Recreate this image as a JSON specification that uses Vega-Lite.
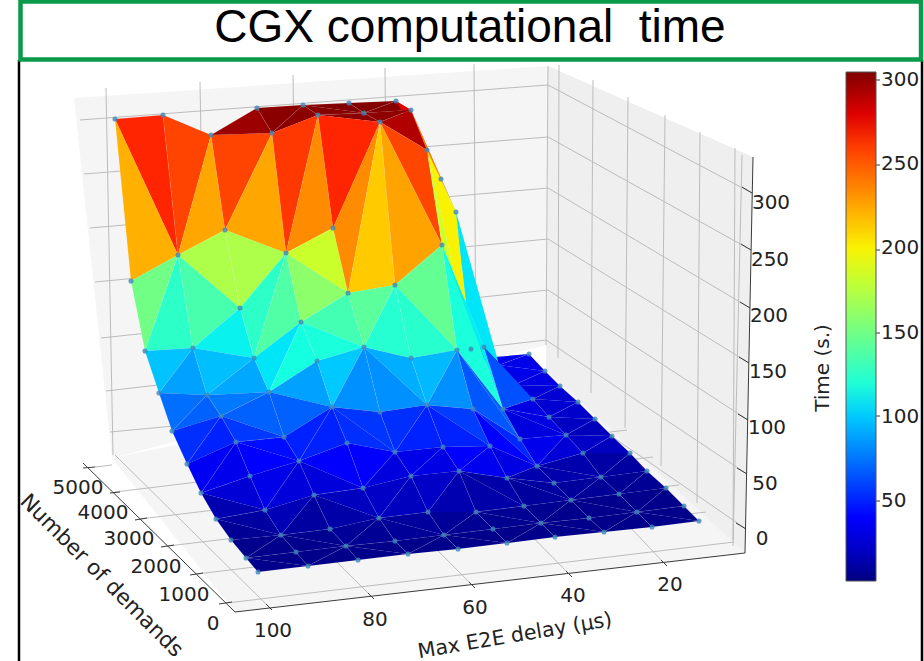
{"$schema":"https://vega.github.io/schema/vega-lite/v6.json","width":924,"height":661,"padding":0,"autosize":{"type":"none"},"background":"white","config":{"view":{"stroke":null}},
"data":{"name":"tris"},
"transform":[{"window":[{"op":"row_number","as":"t"}]},{"flatten":["p"],"as":["id"]},{"lookup":"id","from":{"data":{"name":"points"},"key":"id","fields":["sx","sy"]}}],
"datasets":{
"points":[
{"id":0,"delay":100,"demands":500,"time":5,"sx":258,"sy":572},{"id":1,"delay":90,"demands":500,"time":5,"sx":308,"sy":566},{"id":2,"delay":80,"demands":500,"time":5,"sx":358,"sy":560},{"id":3,"delay":70,"demands":500,"time":5,"sx":408,"sy":554},{"id":4,"delay":60,"demands":500,"time":5,"sx":458,"sy":549},{"id":5,"delay":50,"demands":500,"time":5,"sx":507,"sy":543},{"id":6,"delay":40,"demands":500,"time":5,"sx":555,"sy":537},{"id":7,"delay":30,"demands":500,"time":5,"sx":604,"sy":532},{"id":8,"delay":20,"demands":500,"time":5,"sx":652,"sy":527},{"id":9,"delay":10,"demands":500,"time":5,"sx":699,"sy":521},
{"id":10,"delay":100,"demands":950,"time":6,"sx":246,"sy":558},{"id":11,"delay":90,"demands":950,"time":6,"sx":296,"sy":552},{"id":12,"delay":80,"demands":950,"time":6,"sx":346,"sy":546},{"id":13,"delay":70,"demands":950,"time":6,"sx":395,"sy":541},{"id":14,"delay":60,"demands":950,"time":6,"sx":444,"sy":535},{"id":15,"delay":50,"demands":950,"time":6,"sx":493,"sy":529},{"id":16,"delay":40,"demands":950,"time":6,"sx":541,"sy":523},{"id":17,"delay":30,"demands":950,"time":6,"sx":589,"sy":518},{"id":18,"delay":20,"demands":950,"time":6,"sx":637,"sy":512},{"id":19,"delay":10,"demands":950,"time":6,"sx":684,"sy":506},
{"id":20,"delay":100,"demands":1400,"time":9,"sx":231,"sy":540},{"id":21,"delay":90,"demands":1400,"time":8,"sx":281,"sy":535},{"id":22,"delay":80,"demands":1400,"time":8,"sx":330,"sy":529},{"id":23,"delay":70,"demands":1400,"time":13,"sx":379,"sy":518},{"id":24,"delay":60,"demands":1400,"time":13,"sx":428,"sy":512},{"id":25,"delay":50,"demands":1400,"time":7,"sx":476,"sy":512},{"id":26,"delay":40,"demands":1400,"time":6,"sx":524,"sy":506},{"id":27,"delay":30,"demands":1400,"time":6,"sx":571,"sy":500},{"id":28,"delay":20,"demands":1400,"time":6,"sx":619,"sy":494},{"id":29,"delay":10,"demands":1400,"time":5,"sx":666,"sy":488},
{"id":30,"delay":100,"demands":1850,"time":14,"sx":216,"sy":519},{"id":31,"delay":90,"demands":1850,"time":17,"sx":265,"sy":510},{"id":32,"delay":80,"demands":1850,"time":24,"sx":314,"sy":495},{"id":33,"delay":70,"demands":1850,"time":25,"sx":363,"sy":488},{"id":34,"delay":60,"demands":1850,"time":29,"sx":411,"sy":476},{"id":35,"delay":50,"demands":1850,"time":28,"sx":459,"sy":471},{"id":36,"delay":40,"demands":1850,"time":17,"sx":507,"sy":478},{"id":37,"delay":30,"demands":1850,"time":6,"sx":554,"sy":483},{"id":38,"delay":20,"demands":1850,"time":6,"sx":601,"sy":477},{"id":39,"delay":10,"demands":1850,"time":5,"sx":647,"sy":471},
{"id":40,"delay":100,"demands":2300,"time":25,"sx":201,"sy":493},{"id":41,"delay":90,"demands":2300,"time":34,"sx":250,"sy":476},{"id":42,"delay":80,"demands":2300,"time":41,"sx":299,"sy":461},{"id":43,"delay":70,"demands":2300,"time":52,"sx":347,"sy":443},{"id":44,"delay":60,"demands":2300,"time":38,"sx":395,"sy":452},{"id":45,"delay":50,"demands":2300,"time":36,"sx":443,"sy":447},{"id":46,"delay":40,"demands":2300,"time":30,"sx":490,"sy":446},{"id":47,"delay":30,"demands":2300,"time":6,"sx":537,"sy":466},{"id":48,"delay":20,"demands":2300,"time":12,"sx":583,"sy":453},{"id":49,"delay":10,"demands":2300,"time":6,"sx":630,"sy":453},
{"id":50,"delay":100,"demands":2750,"time":40,"sx":187,"sy":464},{"id":51,"delay":90,"demands":2750,"time":54,"sx":236,"sy":442},{"id":52,"delay":80,"demands":2750,"time":52,"sx":284,"sy":437},{"id":53,"delay":70,"demands":2750,"time":73,"sx":332,"sy":407},{"id":54,"delay":60,"demands":2750,"time":62,"sx":380,"sy":412},{"id":55,"delay":50,"demands":2750,"time":62,"sx":427,"sy":405},{"id":56,"delay":40,"demands":2750,"time":51,"sx":473,"sy":409},{"id":57,"delay":30,"demands":2750,"time":16,"sx":520,"sy":439},{"id":58,"delay":20,"demands":2750,"time":12,"sx":566,"sy":435},{"id":59,"delay":10,"demands":2750,"time":5,"sx":612,"sy":436},
{"id":60,"delay":100,"demands":3200,"time":58,"sx":172,"sy":431},{"id":61,"delay":90,"demands":3200,"time":64,"sx":221,"sy":416},{"id":62,"delay":80,"demands":3200,"time":80,"sx":269,"sy":392},{"id":63,"delay":70,"demands":3200,"time":102,"sx":317,"sy":361},{"id":64,"delay":60,"demands":3200,"time":108,"sx":364,"sy":347},{"id":65,"delay":50,"demands":3200,"time":90,"sx":411,"sy":358},{"id":66,"delay":40,"demands":3200,"time":90,"sx":457,"sy":350},{"id":67,"delay":30,"demands":3200,"time":28,"sx":503,"sy":409},{"id":68,"delay":20,"demands":3200,"time":13,"sx":549,"sy":417},{"id":69,"delay":10,"demands":3200,"time":5,"sx":595,"sy":419},
{"id":70,"delay":100,"demands":3650,"time":80,"sx":159,"sy":393},{"id":71,"delay":90,"demands":3650,"time":71,"sx":207,"sy":395},{"id":72,"delay":80,"demands":3650,"time":98,"sx":254,"sy":358},{"id":73,"delay":70,"demands":3650,"time":126,"sx":301,"sy":322},{"id":74,"delay":60,"demands":3650,"time":175,"sx":348,"sy":293},{"id":75,"delay":50,"demands":3650,"time":150,"sx":395,"sy":285},{"id":76,"delay":40,"demands":3650,"time":176,"sx":442,"sy":245},{"id":77,"delay":30,"demands":3650,"time":72,"sx":484,"sy":347},{"id":78,"delay":20,"demands":3650,"time":15,"sx":533,"sy":399},{"id":79,"delay":10,"demands":3650,"time":6,"sx":578,"sy":402},
{"id":80,"delay":100,"demands":4100,"time":109,"sx":145,"sy":351},{"id":81,"delay":90,"demands":4100,"time":104,"sx":193,"sy":348},{"id":82,"delay":80,"demands":4100,"time":135,"sx":240,"sy":308},{"id":83,"delay":70,"demands":4100,"time":180,"sx":286,"sy":253},{"id":84,"delay":60,"demands":4100,"time":215,"sx":333,"sy":228},{"id":85,"delay":50,"demands":4100,"time":303,"sx":380,"sy":122},{"id":86,"delay":40,"demands":4100,"time":255,"sx":427,"sy":150},{"id":87,"delay":30,"demands":4100,"time":57,"sx":471,"sy":349},{"id":88,"delay":20,"demands":4100,"time":14,"sx":514,"sy":385},{"id":89,"delay":10,"demands":4100,"time":6,"sx":560,"sy":386},
{"id":90,"delay":100,"demands":4550,"time":161,"sx":131,"sy":281},{"id":91,"delay":90,"demands":4550,"time":179,"sx":178,"sy":255},{"id":92,"delay":80,"demands":4550,"time":195,"sx":225,"sy":230},{"id":93,"delay":70,"demands":4550,"time":280,"sx":272,"sy":133},{"id":94,"delay":60,"demands":4550,"time":295,"sx":318,"sy":115},{"id":95,"delay":50,"demands":4550,"time":300,"sx":364,"sy":113},{"id":96,"delay":40,"demands":4550,"time":295,"sx":411,"sy":110},{"id":97,"delay":30,"demands":4550,"time":260,"sx":456,"sy":212},{"id":98,"delay":20,"demands":4550,"time":16,"sx":499,"sy":365},{"id":99,"delay":10,"demands":4550,"time":5,"sx":545,"sy":371},
{"id":100,"delay":100,"demands":5000,"time":295,"sx":115,"sy":119},{"id":101,"delay":90,"demands":5000,"time":295,"sx":163,"sy":115},{"id":102,"delay":80,"demands":5000,"time":280,"sx":211,"sy":135},{"id":103,"delay":70,"demands":5000,"time":302,"sx":257,"sy":108},{"id":104,"delay":60,"demands":5000,"time":304,"sx":303,"sy":105},{"id":105,"delay":50,"demands":5000,"time":304,"sx":349,"sy":103},{"id":106,"delay":40,"demands":5000,"time":304,"sx":396,"sy":101},{"id":107,"delay":30,"demands":5000,"time":180,"sx":441,"sy":179},{"id":108,"delay":20,"demands":5000,"time":12,"sx":483,"sy":358},{"id":109,"delay":10,"demands":5000,"time":5,"sx":529,"sy":354}],
"tris":[
{"p":[100,101,91],"time":268},{"p":[100,90,91],"time":222},{"p":[101,102,91],"time":258},{"p":[102,91,92],"time":225},{"p":[102,92,93],"time":258},{"p":[102,103,93],"time":297},{"p":[103,104,93],"time":302},{"p":[104,93,94],"time":302},{"p":[104,105,95],"time":304},{"p":[104,94,95],"time":303},{"p":[105,106,95],"time":304},{"p":[106,95,96],"time":303},{"p":[106,107,96],"time":280},{"p":[107,96,97],"time":240},{"p":[107,97,98],"time":140},{"p":[107,108,98],"time":100},{"p":[108,109,98],"time":32},{"p":[109,98,99],"time":30},
{"p":[90,91,80],"time":150},{"p":[91,80,81],"time":125},{"p":[91,92,82],"time":172},{"p":[91,81,82],"time":135},{"p":[92,93,83],"time":225},{"p":[92,83,82],"time":172},{"p":[93,94,83],"time":262},{"p":[94,83,84],"time":234},{"p":[94,95,85],"time":302},{"p":[94,84,85],"time":268},{"p":[95,96,85],"time":301},{"p":[96,85,86],"time":292},{"p":[96,86,97],"time":240},{"p":[86,97,87],"time":200},{"p":[97,87,98],"time":108},{"p":[87,88,98],"time":45},{"p":[88,98,99],"time":30},{"p":[88,89,99],"time":28},
{"p":[80,81,70],"time":98},{"p":[81,70,71],"time":88},{"p":[81,82,72],"time":112},{"p":[81,71,72],"time":97},{"p":[82,83,72],"time":125},{"p":[83,72,73],"time":138},{"p":[83,84,74],"time":183},{"p":[83,73,74],"time":160},{"p":[84,85,74],"time":234},{"p":[85,74,75],"time":213},{"p":[85,86,76],"time":257},{"p":[85,75,76],"time":226},{"p":[86,76,87],"time":185},{"p":[76,87,77],"time":116},{"p":[87,88,78],"time":59},{"p":[87,77,78],"time":62},{"p":[88,89,78],"time":26},{"p":[89,78,79],"time":24},
{"p":[70,71,60],"time":73},{"p":[71,60,61],"time":69},{"p":[71,72,62],"time":90},{"p":[71,61,62],"time":76},{"p":[72,62,73],"time":108},{"p":[62,73,63],"time":116},{"p":[73,74,64],"time":133},{"p":[73,63,64],"time":118},{"p":[74,75,64],"time":142},{"p":[75,64,65],"time":122},{"p":[75,76,66],"time":145},{"p":[75,65,66],"time":123},{"p":[76,66,67],"time":118},{"p":[76,77,67],"time":110},{"p":[77,78,67],"time":64},{"p":[78,67,68],"time":28},{"p":[78,79,68],"time":24},{"p":[79,68,69],"time":22},
{"p":[60,61,50],"time":54},{"p":[61,50,51],"time":50},{"p":[61,62,52],"time":69},{"p":[61,51,52],"time":57},{"p":[62,63,53],"time":88},{"p":[62,52,53],"time":69},{"p":[63,64,53],"time":100},{"p":[64,53,54],"time":83},{"p":[64,54,55],"time":83},{"p":[64,65,55],"time":92},{"p":[65,66,55],"time":95},{"p":[66,55,56],"time":83},{"p":[66,67,57],"time":69},{"p":[66,56,57],"time":66},{"p":[67,68,58],"time":28},{"p":[67,57,58],"time":27},{"p":[68,69,58],"time":20},{"p":[69,58,59],"time":18},
{"p":[50,51,40],"time":33},{"p":[51,40,41],"time":31},{"p":[51,52,42],"time":44},{"p":[51,41,42],"time":36},{"p":[52,53,42],"time":50},{"p":[53,42,43],"time":50},{"p":[53,54,44],"time":56},{"p":[53,43,44],"time":54},{"p":[54,55,44],"time":54},{"p":[55,44,45],"time":50},{"p":[55,56,46],"time":58},{"p":[55,45,46],"time":50},{"p":[56,57,47],"time":52},{"p":[56,46,47],"time":36},{"p":[57,47,58],"time":31},{"p":[47,58,48],"time":25},{"p":[58,59,48],"time":21},{"p":[59,48,49],"time":19},
{"p":[40,41,31],"time":25},{"p":[40,30,31],"time":15},{"p":[41,42,31],"time":30},{"p":[42,31,32],"time":26},{"p":[42,43,33],"time":35},{"p":[42,32,33],"time":26},{"p":[43,44,33],"time":35},{"p":[44,33,34],"time":27},{"p":[44,45,34],"time":30},{"p":[45,34,35],"time":29},{"p":[45,46,35],"time":35},{"p":[46,35,36],"time":32},{"p":[46,36,47],"time":28},{"p":[36,47,37],"time":15},{"p":[47,37,38],"time":14},{"p":[47,48,38],"time":14},{"p":[48,49,38],"time":12},{"p":[49,38,39],"time":11},
{"p":[30,20,21],"time":8},{"p":[30,31,21],"time":11},{"p":[31,32,21],"time":17},{"p":[32,21,22],"time":11},{"p":[32,33,23],"time":19},{"p":[32,22,23],"time":13},{"p":[33,34,23],"time":21},{"p":[34,23,24],"time":19},{"p":[34,35,24],"time":21},{"p":[35,24,25],"time":15},{"p":[35,25,26],"time":13},{"p":[35,36,26],"time":13},{"p":[36,37,27],"time":11},{"p":[36,26,27],"time":10},{"p":[37,38,27],"time":10},{"p":[38,27,28],"time":9},{"p":[38,28,39],"time":8},{"p":[39,28,29],"time":8},
{"p":[20,21,10],"time":6},{"p":[21,10,11],"time":6},{"p":[21,22,12],"time":7},{"p":[21,11,12],"time":6},{"p":[22,23,12],"time":9},{"p":[23,12,13],"time":8},{"p":[23,24,14],"time":10},{"p":[23,13,14],"time":9},{"p":[24,25,14],"time":9},{"p":[25,14,15],"time":8},{"p":[25,26,16],"time":8},{"p":[25,15,16],"time":7},{"p":[26,27,16],"time":7},{"p":[27,16,17],"time":6},{"p":[27,28,18],"time":6},{"p":[27,17,18],"time":6},{"p":[28,29,18],"time":6},{"p":[29,18,19],"time":5},
{"p":[10,11,1],"time":5},{"p":[10,0,1],"time":5},{"p":[11,12,1],"time":5},{"p":[12,1,2],"time":5},{"p":[12,13,3],"time":5},{"p":[12,2,3],"time":5},{"p":[13,14,3],"time":5},{"p":[14,3,4],"time":5},{"p":[14,15,5],"time":5},{"p":[14,4,5],"time":5},{"p":[15,16,5],"time":5},{"p":[16,5,6],"time":5},{"p":[16,17,7],"time":5},{"p":[16,6,7],"time":5},{"p":[17,18,7],"time":5},{"p":[18,7,8],"time":5},{"p":[18,19,9],"time":5},{"p":[18,8,9],"time":5}],
"backpanes":[{"g":1,"sx":[74,548,546,112],"sy":[98,66,345,458]},{"g":2,"sx":[112,546,745,235],"sy":[458,370,553,612]}],
"sidepane":[{"g":1,"sx":[548,753,745,546],"sy":[66,157,553,370]}],
"grid":[
{"g":1,"sx":[80,548],"sy":[120,85]},{"g":2,"sx":[84,548],"sy":[174,137]},{"g":3,"sx":[90,548],"sy":[228,188]},{"g":4,"sx":[95,548],"sy":[282,239]},{"g":5,"sx":[101,548],"sy":[338,290]},{"g":6,"sx":[106,546],"sy":[391,340]},{"g":7,"sx":[110,546],"sy":[432,391]},
{"g":8,"sx":[548,752],"sy":[85,193]},{"g":9,"sx":[548,751],"sy":[137,250]},{"g":10,"sx":[548,750],"sy":[188,308]},{"g":11,"sx":[548,749],"sy":[239,363]},{"g":12,"sx":[548,748],"sy":[290,420]},{"g":13,"sx":[546,747],"sy":[340,474]},{"g":14,"sx":[546,746],"sy":[391,529]},
{"g":15,"sx":[106,113],"sy":[88,455]},{"g":16,"sx":[200,206],"sy":[82,432]},{"g":17,"sx":[293,298],"sy":[75,410]},{"g":18,"sx":[385,388],"sy":[68,390]},{"g":19,"sx":[474,476],"sy":[64,365]},{"g":20,"sx":[548,546],"sy":[66,345]},
{"g":21,"sx":[559,558],"sy":[65,358]},{"g":22,"sx":[593,591],"sy":[80,393]},{"g":23,"sx":[628,625],"sy":[97,428]},{"g":24,"sx":[665,661],"sy":[115,466]},{"g":25,"sx":[700,697],"sy":[132,503]},{"g":26,"sx":[735,733],"sy":[148,540]},{"g":27,"sx":[742,733],"sy":[155,546]},
{"g":28,"sx":[115,270],"sy":[455,608]},{"g":29,"sx":[206,372],"sy":[432,597]},{"g":30,"sx":[298,473],"sy":[410,586]},{"g":31,"sx":[388,570],"sy":[390,575]},{"g":32,"sx":[476,665],"sy":[365,564]},
{"g":33,"sx":[115,627],"sy":[492,430]},{"g":34,"sx":[140,653],"sy":[519,457]},{"g":35,"sx":[168,679],"sy":[546,485]},{"g":36,"sx":[197,706],"sy":[574,512]},{"g":37,"sx":[227,734],"sy":[603,542]},{"g":38,"sx":[95,112],"sy":[467,465]}],
"axes":[
{"g":1,"sx":[83,235],"sy":[463,612]},{"g":2,"sx":[235,745],"sy":[612,553]},{"g":3,"sx":[745,753],"sy":[553,157]},
{"g":4,"sx":[110,120],"sy":[493,492]},{"g":5,"sx":[135,147],"sy":[520,518]},{"g":6,"sx":[161,174],"sy":[547,545]},{"g":7,"sx":[190,203],"sy":[575,573]},{"g":8,"sx":[219,232],"sy":[604,602]},{"g":9,"sx":[83,95],"sy":[468,467]},
{"g":10,"sx":[266,272],"sy":[604,610]},{"g":11,"sx":[368,374],"sy":[593,599]},{"g":12,"sx":[469,475],"sy":[582,588]},{"g":13,"sx":[566,572],"sy":[571,577]},{"g":14,"sx":[661,667],"sy":[560,566]},
{"g":15,"sx":[742,752],"sy":[187,193]},{"g":16,"sx":[741,751],"sy":[244,250]},{"g":17,"sx":[740,750],"sy":[302,308]},{"g":18,"sx":[739,749],"sy":[357,363]},{"g":19,"sx":[738,748],"sy":[414,420]},{"g":20,"sx":[737,747],"sy":[468,474]},{"g":21,"sx":[736,746],"sy":[523,529]},
{"g":22,"sx":[876,880],"sy":[80,80]},{"g":23,"sx":[876,880],"sy":[165,165]},{"g":24,"sx":[876,880],"sy":[250,250]},{"g":25,"sx":[876,880],"sy":[333,333]},{"g":26,"sx":[876,880],"sy":[416,416]},{"g":27,"sx":[876,880],"sy":[501,501]}],
"frame":[{"g":1,"sx":[19,19],"sy":[60,661]},{"g":2,"sx":[922,922],"sy":[60,661]}],
"ticklabels":[{"label":"5000","sx":78,"sy":488},{"label":"4000","sx":103,"sy":513},{"label":"3000","sx":129,"sy":539},{"label":"2000","sx":156,"sy":567},{"label":"1000","sx":184,"sy":595},{"label":"0","sx":213,"sy":624},{"label":"100","sx":273,"sy":631},{"label":"80","sx":375,"sy":620},{"label":"60","sx":475,"sy":608},{"label":"40","sx":573,"sy":596},{"label":"20","sx":670,"sy":585},{"label":"300","sx":771,"sy":203},{"label":"250","sx":770,"sy":260},{"label":"200","sx":769,"sy":316},{"label":"150","sx":768,"sy":372},{"label":"100","sx":767,"sy":428},{"label":"50","sx":765,"sy":484},{"label":"0","sx":762,"sy":539}]
},
"encoding":{"x":{"field":"sx","type":"quantitative","axis":null,"scale":{"domain":[0,924],"range":[0,924],"nice":false,"zero":false}},"y":{"field":"sy","type":"quantitative","axis":null,"scale":{"domain":[0,661],"range":[0,661],"nice":false,"zero":false}}},
"layer":[
{"data":{"name":"backpanes"},"transform":[{"flatten":["sx","sy"]},{"window":[{"op":"row_number","as":"k"}],"groupby":["g"]}],"mark":{"type":"line","filled":true,"fill":"#f5f5f5","stroke":null},"encoding":{"detail":{"field":"g","type":"nominal"},"order":{"field":"k","type":"quantitative"}}},
{"data":{"name":"sidepane"},"transform":[{"flatten":["sx","sy"]},{"window":[{"op":"row_number","as":"k"}],"groupby":["g"]}],"mark":{"type":"line","filled":true,"fill":"#efefef","stroke":null},"encoding":{"detail":{"field":"g","type":"nominal"},"order":{"field":"k","type":"quantitative"}}},
{"data":{"name":"grid"},"transform":[{"flatten":["sx","sy"]}],"mark":{"type":"line","stroke":"#bcbcbc","strokeWidth":1},"encoding":{"detail":{"field":"g","type":"nominal"}}},
{"data":{"name":"axes"},"transform":[{"flatten":["sx","sy"]}],"mark":{"type":"line","stroke":"#3a3a3a","strokeWidth":1},"encoding":{"detail":{"field":"g","type":"nominal"}}},
{"data":{"name":"frame"},"transform":[{"flatten":["sx","sy"]}],"mark":{"type":"line","stroke":"#000000","strokeWidth":2.5},"encoding":{"detail":{"field":"g","type":"nominal"}}},
{"mark":{"type":"line","filled":true,"stroke":"#ffffff","strokeOpacity":0.12,"strokeWidth":0.7},
"encoding":{"detail":{"field":"t","type":"nominal"},"color":{"field":"time","type":"quantitative","scale":{"type":"linear","interpolate":"rgb","domain":[2.5,35.7,40.3,105.2,108.3,115.8,195.9,202,271.5,277.5,304.7],"range":["#000080","#0000ff","#0000ff","#00dbff","#00e6f7","#14ffe2","#eeff08","#ffec00","#ff1a00","#e80000","#800000"]},"legend":{"orient":"none","legendX":846,"legendY":72,"title":null,"padding":0,"direction":"vertical","type":"gradient","gradientLength":509,"gradientThickness":30,"gradientStrokeColor":"#555555","gradientStrokeWidth":1,"values":[50,100,150,200,250,300],"labelFontSize":20,"labelFont":"DejaVu Sans","labelColor":"#222222","labelOffset":5,"labelOverlap":false}}}},
{"data":{"name":"points"},"transform":[{"filter":{"not":{"field":"id","oneOf":[88,98,108]}}}],"mark":{"type":"circle","size":26,"color":"#3d88b8","opacity":0.8}},
{"data":{"name":"ticklabels"},"mark":{"type":"text","font":"DejaVu Sans","fontSize":20,"fill":"#222222","align":"center","baseline":"middle"},"encoding":{"text":{"field":"label","type":"nominal"}}},
{"data":{"values":[{"label":"Number of demands","sx":101,"sy":576}]},"mark":{"type":"text","font":"DejaVu Sans","fontSize":21.5,"fill":"#222222","angle":45,"align":"center","baseline":"middle"},"encoding":{"text":{"field":"label","type":"nominal"}}},
{"data":{"values":[{"label":"Max E2E delay (µs)","sx":515,"sy":636}]},"mark":{"type":"text","font":"DejaVu Sans","fontSize":20.5,"fill":"#222222","angle":-9.5,"align":"center","baseline":"middle"},"encoding":{"text":{"field":"label","type":"nominal"}}},
{"data":{"values":[{"label":"Time (s.)","sx":823,"sy":368}]},"mark":{"type":"text","font":"DejaVu Sans","fontSize":20,"fill":"#222222","angle":-90,"align":"center","baseline":"middle"},"encoding":{"text":{"field":"label","type":"nominal"}}},
{"data":{"values":[{"sx":20.5,"sx2":921,"sy":1.5,"sy2":59.5}]},"mark":{"type":"rect","fill":"#ffffff","stroke":"#0a9a4a","strokeWidth":4.5},"encoding":{"x2":{"field":"sx2"},"y2":{"field":"sy2"}}},
{"data":{"values":[{"label":"CGX computational \u00a0time","sx":470,"sy":41.5}]},"mark":{"type":"text","font":"Liberation Sans","fontSize":46,"fill":"#000000","align":"center","baseline":"alphabetic"},"encoding":{"text":{"field":"label","type":"nominal"}}}
]}
